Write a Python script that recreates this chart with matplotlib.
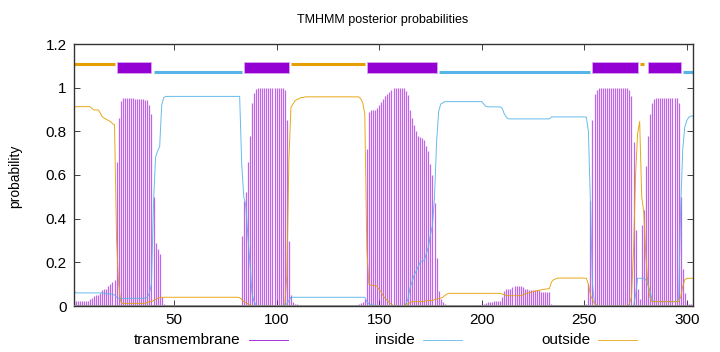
import numpy as np
import matplotlib
matplotlib.use("Agg")
import matplotlib.pyplot as plt
from matplotlib.lines import Line2D

plt.rcParams['font.family'] = ['Liberation Sans', 'DejaVu Sans']

# posterior probabilities per residue (1..303)
transmembrane = [
    0.023, 0.023, 0.023, 0.023, 0.023, 0.023, 0.023, 0.025, 0.030, 0.037,
    0.045, 0.050, 0.050, 0.060, 0.073, 0.080, 0.080, 0.090, 0.100, 0.110,
    0.120, 0.660, 0.860, 0.940, 0.951, 0.951, 0.951, 0.951, 0.951, 0.951,
    0.949, 0.948, 0.948, 0.947, 0.946, 0.945, 0.944, 0.920, 0.880, 0.500,
    0.290, 0.260, 0.240, 0.040, 0.010, 0.005, 0.002, 0.001, 0.001, 0.001,
    0.000, 0.000, 0.000, 0.000, 0.000, 0.000, 0.000, 0.000, 0.000, 0.000,
    0.000, 0.000, 0.000, 0.000, 0.000, 0.000, 0.000, 0.000, 0.000, 0.000,
    0.000, 0.000, 0.000, 0.000, 0.000, 0.000, 0.000, 0.000, 0.000, 0.000,
    0.000, 0.002, 0.320, 0.480, 0.520, 0.660, 0.780, 0.930, 0.975, 0.995,
    0.999, 0.999, 0.999, 0.999, 0.999, 0.999, 0.999, 0.999, 0.999, 0.999,
    0.999, 0.999, 0.999, 0.990, 0.850, 0.300, 0.050, 0.020, 0.010, 0.010,
    0.005, 0.002, 0.001, 0.000, 0.000, 0.000, 0.000, 0.000, 0.000, 0.000,
    0.000, 0.000, 0.000, 0.000, 0.000, 0.000, 0.000, 0.000, 0.000, 0.000,
    0.000, 0.000, 0.000, 0.000, 0.000, 0.000, 0.000, 0.000, 0.005, 0.010,
    0.012, 0.020, 0.030, 0.720, 0.890, 0.898, 0.898, 0.900, 0.905, 0.920,
    0.935, 0.950, 0.960, 0.970, 0.980, 0.990, 0.997, 0.997, 0.997, 0.997,
    0.997, 0.997, 0.985, 0.965, 0.900, 0.860, 0.830, 0.800, 0.780, 0.775,
    0.770, 0.760, 0.735, 0.710, 0.650, 0.600, 0.470, 0.220, 0.070, 0.030,
    0.020, 0.010, 0.005, 0.003, 0.002, 0.001, 0.001, 0.001, 0.001, 0.001,
    0.001, 0.001, 0.001, 0.001, 0.002, 0.003, 0.004, 0.005, 0.006, 0.008,
    0.010, 0.015, 0.020, 0.020, 0.020, 0.022, 0.022, 0.022, 0.022, 0.040,
    0.070, 0.080, 0.080, 0.080, 0.085, 0.090, 0.090, 0.090, 0.090, 0.088,
    0.080, 0.077, 0.075, 0.073, 0.073, 0.073, 0.073, 0.073, 0.065, 0.065,
    0.065, 0.063, 0.063, 0.010, 0.005, 0.004, 0.004, 0.004, 0.003, 0.003,
    0.003, 0.003, 0.002, 0.002, 0.002, 0.002, 0.002, 0.002, 0.002, 0.003,
    0.008, 0.100, 0.480, 0.850, 0.970, 0.990, 0.997, 0.997, 0.997, 0.997,
    0.997, 0.997, 0.997, 0.997, 0.997, 0.997, 0.997, 0.997, 0.997, 0.997,
    0.997, 0.990, 0.960, 0.750, 0.350, 0.080, 0.030, 0.370, 0.440, 0.640,
    0.780, 0.880, 0.930, 0.950, 0.954, 0.954, 0.954, 0.954, 0.954, 0.954,
    0.954, 0.954, 0.954, 0.954, 0.953, 0.930, 0.500, 0.170, 0.060, 0.020,
    0.010, 0.008, 0.005,
]

inside = [
    0.075, 0.060, 0.060, 0.060, 0.060, 0.060, 0.060, 0.060, 0.060, 0.060,
    0.060, 0.060, 0.060, 0.060, 0.060, 0.058, 0.057, 0.055, 0.055, 0.055,
    0.050, 0.040, 0.035, 0.035, 0.035, 0.035, 0.035, 0.035, 0.035, 0.035,
    0.035, 0.035, 0.035, 0.035, 0.035, 0.036, 0.040, 0.060, 0.100, 0.470,
    0.680, 0.710, 0.730, 0.920, 0.955, 0.960, 0.960, 0.960, 0.960, 0.960,
    0.960, 0.960, 0.960, 0.960, 0.960, 0.960, 0.960, 0.960, 0.960, 0.960,
    0.960, 0.960, 0.960, 0.960, 0.960, 0.960, 0.960, 0.960, 0.960, 0.960,
    0.960, 0.960, 0.960, 0.960, 0.960, 0.960, 0.960, 0.960, 0.960, 0.960,
    0.960, 0.960, 0.650, 0.500, 0.460, 0.320, 0.200, 0.060, 0.020, 0.005,
    0.000, 0.000, 0.000, 0.000, 0.000, 0.000, 0.000, 0.000, 0.000, 0.000,
    0.000, 0.000, 0.002, 0.005, 0.010, 0.025, 0.040, 0.040, 0.040, 0.040,
    0.040, 0.040, 0.040, 0.040, 0.040, 0.040, 0.040, 0.040, 0.040, 0.040,
    0.040, 0.040, 0.040, 0.040, 0.040, 0.040, 0.040, 0.040, 0.040, 0.040,
    0.040, 0.040, 0.040, 0.040, 0.040, 0.040, 0.040, 0.040, 0.040, 0.040,
    0.040, 0.040, 0.040, 0.020, 0.010, 0.005, 0.005, 0.003, 0.002, 0.000,
    0.000, 0.000, 0.000, 0.000, 0.000, 0.000, 0.000, 0.000, 0.000, 0.000,
    0.000, 0.000, 0.010, 0.030, 0.080, 0.110, 0.140, 0.160, 0.180, 0.200,
    0.205, 0.210, 0.240, 0.270, 0.325, 0.370, 0.500, 0.750, 0.890, 0.925,
    0.930, 0.936, 0.936, 0.936, 0.936, 0.936, 0.936, 0.936, 0.936, 0.936,
    0.936, 0.936, 0.936, 0.936, 0.936, 0.936, 0.936, 0.936, 0.936, 0.936,
    0.925, 0.915, 0.912, 0.912, 0.912, 0.912, 0.912, 0.912, 0.912, 0.905,
    0.880, 0.865, 0.857, 0.857, 0.857, 0.857, 0.857, 0.857, 0.857, 0.857,
    0.857, 0.857, 0.857, 0.857, 0.857, 0.857, 0.857, 0.857, 0.857, 0.857,
    0.857, 0.857, 0.857, 0.866, 0.866, 0.866, 0.866, 0.866, 0.866, 0.866,
    0.866, 0.866, 0.866, 0.866, 0.866, 0.866, 0.866, 0.866, 0.866, 0.866,
    0.865, 0.800, 0.470, 0.100, 0.010, 0.000, 0.000, 0.000, 0.000, 0.000,
    0.000, 0.000, 0.000, 0.000, 0.000, 0.000, 0.000, 0.000, 0.000, 0.000,
    0.000, 0.000, 0.000, 0.000, 0.050, 0.127, 0.127, 0.127, 0.127, 0.120,
    0.100, 0.070, 0.030, 0.020, 0.020, 0.020, 0.020, 0.020, 0.020, 0.020,
    0.020, 0.020, 0.020, 0.020, 0.020, 0.030, 0.450, 0.720, 0.820, 0.850,
    0.865, 0.870, 0.870,
]

outside = [
    0.913, 0.913, 0.913, 0.913, 0.913, 0.913, 0.913, 0.913, 0.913, 0.905,
    0.898, 0.898, 0.898, 0.885, 0.867, 0.860, 0.855, 0.850, 0.845, 0.835,
    0.830, 0.300, 0.100, 0.020, 0.012, 0.012, 0.012, 0.012, 0.012, 0.012,
    0.012, 0.012, 0.012, 0.012, 0.012, 0.013, 0.015, 0.020, 0.020, 0.025,
    0.030, 0.035, 0.038, 0.040, 0.040, 0.040, 0.040, 0.040, 0.040, 0.040,
    0.040, 0.040, 0.040, 0.040, 0.040, 0.040, 0.040, 0.040, 0.040, 0.040,
    0.040, 0.040, 0.040, 0.040, 0.040, 0.040, 0.040, 0.040, 0.040, 0.040,
    0.040, 0.040, 0.040, 0.040, 0.040, 0.040, 0.040, 0.040, 0.040, 0.040,
    0.040, 0.038, 0.030, 0.020, 0.015, 0.010, 0.005, 0.000, 0.000, 0.000,
    0.000, 0.000, 0.000, 0.000, 0.000, 0.000, 0.000, 0.000, 0.000, 0.000,
    0.000, 0.000, 0.000, 0.005, 0.140, 0.670, 0.910, 0.925, 0.940, 0.946,
    0.950, 0.955, 0.955, 0.958, 0.958, 0.958, 0.958, 0.958, 0.958, 0.958,
    0.958, 0.958, 0.958, 0.958, 0.958, 0.958, 0.958, 0.958, 0.958, 0.958,
    0.958, 0.958, 0.958, 0.958, 0.958, 0.958, 0.958, 0.958, 0.958, 0.958,
    0.950, 0.930, 0.880, 0.260, 0.100, 0.095, 0.095, 0.093, 0.090, 0.075,
    0.065, 0.045, 0.035, 0.025, 0.015, 0.008, 0.002, 0.002, 0.002, 0.002,
    0.002, 0.002, 0.005, 0.010, 0.015, 0.020, 0.020, 0.020, 0.020, 0.020,
    0.020, 0.020, 0.025, 0.025, 0.025, 0.025, 0.030, 0.032, 0.034, 0.036,
    0.040, 0.048, 0.055, 0.058, 0.058, 0.058, 0.058, 0.058, 0.058, 0.058,
    0.058, 0.058, 0.058, 0.058, 0.058, 0.058, 0.058, 0.058, 0.058, 0.058,
    0.058, 0.058, 0.058, 0.058, 0.058, 0.058, 0.058, 0.058, 0.058, 0.055,
    0.052, 0.047, 0.047, 0.047, 0.047, 0.047, 0.047, 0.047, 0.047, 0.050,
    0.055, 0.058, 0.060, 0.063, 0.066, 0.068, 0.070, 0.072, 0.074, 0.076,
    0.077, 0.078, 0.080, 0.110, 0.120, 0.124, 0.128, 0.128, 0.128, 0.128,
    0.128, 0.128, 0.128, 0.128, 0.128, 0.128, 0.128, 0.128, 0.128, 0.128,
    0.127, 0.100, 0.050, 0.030, 0.010, 0.005, 0.000, 0.000, 0.000, 0.000,
    0.000, 0.000, 0.000, 0.000, 0.000, 0.000, 0.000, 0.000, 0.000, 0.000,
    0.003, 0.010, 0.040, 0.250, 0.600, 0.790, 0.845, 0.500, 0.430, 0.230,
    0.100, 0.040, 0.020, 0.020, 0.020, 0.020, 0.020, 0.020, 0.020, 0.020,
    0.020, 0.020, 0.020, 0.020, 0.020, 0.020, 0.040, 0.090, 0.120, 0.127,
    0.127, 0.127, 0.127,
]

# predicted topology (start, end)
tm_segments = [(22, 39), (84, 106), (144, 178), (254, 276), (281, 297)]
outside_segments = [(1, 21), (107, 143), (277, 279)]
inside_segments = [(40, 83), (179, 253), (298, 303)]

purple = '#9400D3'
blue = '#56B4E9'
orange = '#E69F00'

residues = np.arange(1, len(transmembrane) + 1)

fig = plt.figure(figsize=(7.2, 3.52), dpi=100)
ax = fig.add_axes([73.5 / 720, 46 / 352, 619.5 / 720, 262 / 352])

# impulses come out lighter in gnuplot's antialiased png
ax.vlines(residues, 0, transmembrane, color=purple, lw=0.9, alpha=0.6)
ax.plot(residues, inside, color=blue, lw=0.7, alpha=0.9)
ax.plot(residues, outside, color=orange, lw=0.7, alpha=0.9)
ax.axhline(0, color='#888888', lw=2, zorder=3)

# topology bars on top
for s, e in tm_segments:
    ax.fill_between([s, e], 1.066, 1.116, color=purple, edgecolor='#d8a8f0', lw=0.6)
for s, e in outside_segments:
    ax.plot([s, e], [1.109, 1.109], color=orange, lw=2.2, solid_capstyle='butt')
for s, e in inside_segments:
    ax.plot([s, e], [1.073, 1.073], color=blue, lw=2.2, solid_capstyle='butt')

ax.set_xlim(1, 303)
ax.set_ylim(0, 1.2)
ax.set_xticks([50, 100, 150, 200, 250, 300])
ax.set_yticks([0, 0.2, 0.4, 0.6, 0.8, 1.0, 1.2])
ax.set_yticklabels(['0', '0.2', '0.4', '0.6', '0.8', '1', '1.2'])
ax.tick_params(direction='in', top=True, right=True, length=4, width=0.6,
               labelsize=11, colors='#222222', labelcolor='black', pad=5)
for sp in ax.spines.values():
    sp.set_linewidth(1)
    sp.set_color('#333333')

fig.text(383 / 720, 1 - 20 / 352, 'TMHMM posterior probabilities', ha='center', va='center', fontsize=9)
fig.text(15 / 720, 0.5, 'probability', rotation=90, ha='center', va='center', fontsize=10)

# legend, gnuplot style: label then sample line
legend_items = [('transmembrane', purple, 240, 249), ('inside', blue, 415, 423), ('outside', orange, 590, 598)]
ly = 1 - 340 / 352
for label, col, tx, lx in legend_items:
    fig.text(tx / 720, ly, label, ha='right', va='center', fontsize=11)
    fig.add_artist(Line2D([lx / 720, (lx + 39) / 720], [ly, ly], color=col, lw=0.7, alpha=0.8))

fig.savefig('out.png', dpi=100)
